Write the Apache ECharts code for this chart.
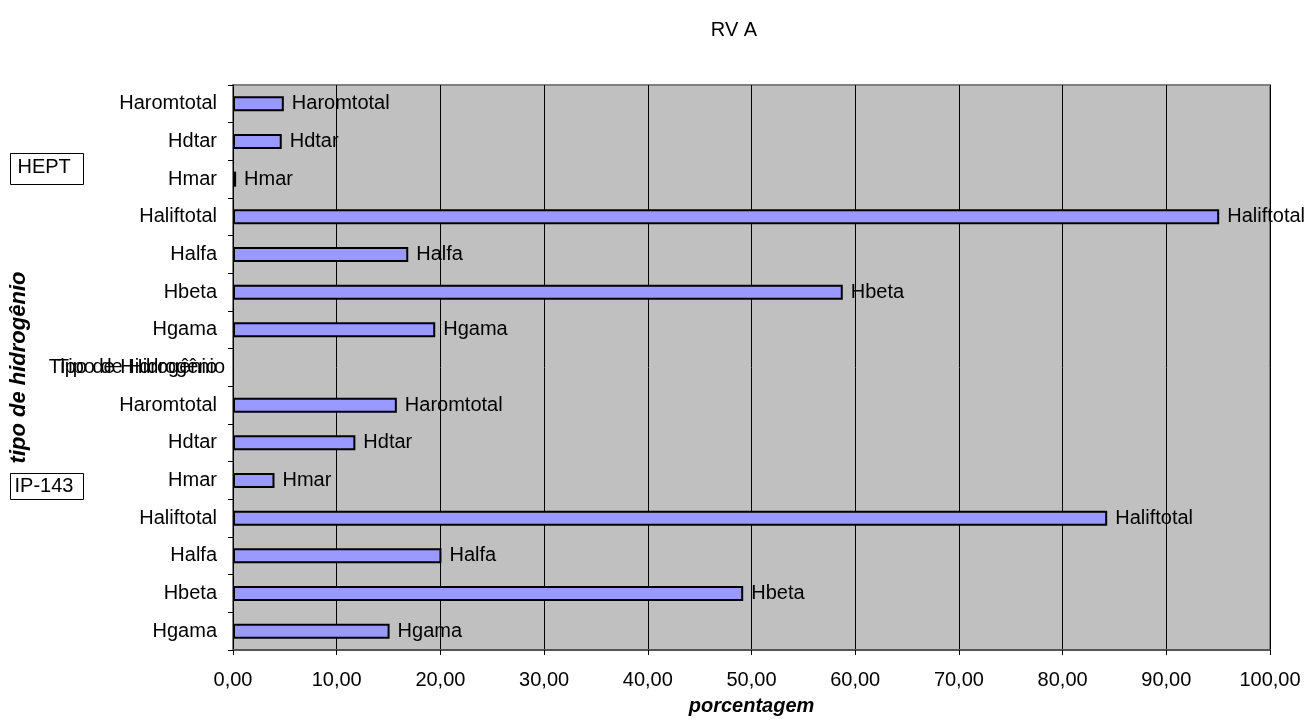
<!DOCTYPE html>
<html>
<head>
<meta charset="utf-8">
<title>RV A</title>
<script src="https://cdn.jsdelivr.net/npm/echarts@6/dist/echarts.min.js"></script>
<style>
  html, body { margin: 0; padding: 0; background: #fff; }
  #chart { width: 1307px; height: 727px; }
</style>
</head>
<body>
<div id="chart"></div>
<script>
// Hydrogen-type categories, listed bottom to top within each sample group
const hTypes = ['Hgama', 'Hbeta', 'Halfa', 'Haliftotal', 'Hmar', 'Hdtar', 'Haromtotal'];
const separatorLabel = 'Tipo de Hidrogênio';

// Percentages per sample
const ip143Values = [15.1, 49.2, 20.1, 84.3, 4.0, 11.8, 15.8];
const heptValues  = [19.5, 58.8, 16.9, 95.1, 0.3, 4.7, 4.9];

// X-axis scale
const xMin = 0, xMax = 100, xStep = 10;

// Group tags
const groupTags = ['HEPT', 'IP-143'];

const FONT = "'Liberation Sans', Arial, Helvetica, sans-serif";

// Build the category axis: IP-143 block at bottom, separator row, HEPT block on top
const categories = hTypes.concat([separatorLabel], hTypes);
const values = ip143Values.concat(['-'], heptValues);

const chart = echarts.init(document.getElementById('chart'), null, { renderer: 'canvas' });

function fmtComma(v) {
  return v.toFixed(2).replace('.', ',');
}

chart.setOption({
  animation: false,
  backgroundColor: '#ffffff',
  title: {
    text: 'RV A',
    left: 729,
    top: 15,
    textAlign: 'center',
    textStyle: { fontFamily: FONT, fontSize: 20, fontWeight: 'normal', color: '#000' }
  },
  grid: {
    left: 232, top: 85, right: 37, bottom: 77,
    show: true,
    backgroundColor: '#C0C0C0',
    borderColor: '#808080',
    borderWidth: 2
  },
  xAxis: {
    type: 'value',
    min: xMin, max: xMax, interval: xStep,
    name: 'porcentagem',
    nameLocation: 'middle',
    nameGap: 46,
    nameTextStyle: { fontFamily: FONT, fontSize: 20, fontWeight: 'bold', fontStyle: 'italic', color: '#000' },
    axisLine: { show: true, onZero: false, lineStyle: { color: '#555', width: 2 } },
    axisTick: { show: true, length: 5, lineStyle: { color: '#000', width: 1 } },
    axisLabel: {
      margin: 20,
      fontFamily: FONT, fontSize: 20, color: '#000',
      formatter: fmtComma
    },
    splitLine: { show: true, lineStyle: { color: '#000', width: 1 } }
  },
  yAxis: [
    {
      type: 'category',
      data: categories,
      position: 'left',
      name: 'tipo de hidrogênio',
      nameLocation: 'middle',
      nameGap: 203,
      nameRotate: 90,
      nameTextStyle: { fontFamily: FONT, fontSize: 22, fontWeight: 'bold', fontStyle: 'italic', color: '#000' },
      axisLine: { show: true, lineStyle: { color: '#000', width: 1 } },
      axisTick: { show: true, length: 5, alignWithLabel: false, lineStyle: { color: '#000' } },
      axisLabel: { margin: 16, fontFamily: FONT, fontSize: 20, color: '#000', interval: 0 },
      splitLine: { show: false }
    },
    {
      // second print of the separator caption, slightly offset
      type: 'category',
      data: categories,
      position: 'left',
      axisLine: { show: false },
      axisTick: { show: false },
      splitLine: { show: false },
      axisLabel: {
        margin: 8, fontFamily: FONT, fontSize: 20, color: '#000', interval: 0,
        formatter: function (v) { return v === separatorLabel ? v : ''; }
      }
    }
  ],
  series: [
    {
      type: 'bar',
      yAxisIndex: 0,
      data: values,
      barWidth: '40%',
      itemStyle: { color: '#9999FF', borderColor: '#000', borderWidth: 2 },
      label: {
        show: true,
        position: 'right',
        distance: 8,
        formatter: '{b}',
        fontFamily: FONT, fontSize: 20, color: '#000'
      }
    }
  ],
  graphic: [
    {
      type: 'group', left: 10, top: 153,
      children: [
        { type: 'rect', shape: { x: 0, y: 0, width: 73, height: 31 },
          style: { fill: '#fff', stroke: '#000', lineWidth: 1 } },
        { type: 'text', x: 7, y: 4,
          style: { text: groupTags[0], font: '20px ' + FONT, fill: '#000' } }
      ]
    },
    {
      type: 'group', left: 10, top: 473,
      children: [
        { type: 'rect', shape: { x: 0, y: 0, width: 73, height: 26 },
          style: { fill: '#fff', stroke: '#000', lineWidth: 1 } },
        { type: 'text', x: 4, y: 3,
          style: { text: groupTags[1], font: '20px ' + FONT, fill: '#000' } }
      ]
    }
  ]
});
</script>
</body>
</html>
